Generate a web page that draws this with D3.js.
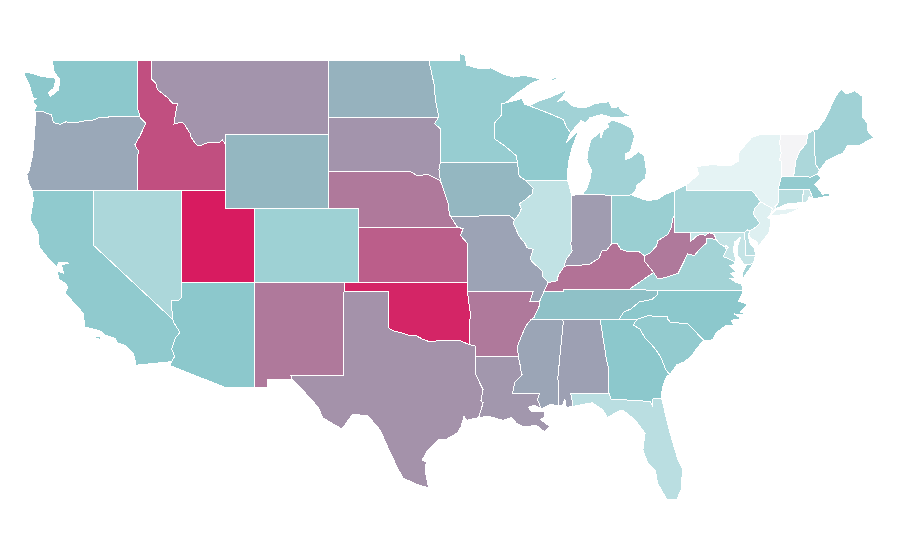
<!DOCTYPE html>
<html>
<head>
    <title>US states</title>
    <script src="https://cdnjs.cloudflare.com/ajax/libs/d3/7.8.5/d3.min.js"></script>
    <style type="text/css">
        html, body { margin: 0; background: #fff; }
        path.state { stroke: #fff; stroke-width: 1px; shape-rendering: crispEdges; }
    </style>
</head>
<body>
<script type="text/javascript">
    // values
    var stateValues = {
        WA: 30, OR: 43, CA: 29, NV: 21, ID: 79, MT: 51, WY: 37, UT: 100, AZ: 30, CO: 25, NM: 62,
        ND: 39, SD: 51, NE: 62, KS: 73, OK: 96, TX: 52, MN: 27, IA: 37, MO: 45, AR: 62, LA: 50,
        WI: 29, IL: 15, MS: 44, AL: 46, TN: 33, KY: 65, IN: 48, MI: 24, OH: 26, WV: 62, VA: 23.5,
        NC: 30, SC: 28, GA: 30, FL: 17, PA: 22, NY: 5, NJ: 7, DE: 17, MD: 14, DC: 14, CT: 18,
        RI: 13, MA: 28, VT: 0, NH: 21, ME: 24.5
    };
    var colorDomain = [0, 5, 30, 100];
    var colorRange = ["#f4f4f6", "#e5f3f4", "#8cc8cc", "#d81b60"];

    // shared borders, lon/lat
    var waCoast = [[-122.76,49],[-122.8,48.9],[-122.7,48.4],[-122.3,47.95],[-122.4,47.4],[-122.95,47.05],[-123.1,47.25],[-122.72,47.5],[-122.58,47.95],[-122.75,48.1],[-123.15,48.1],[-123.7,48.17],[-124.2,48.3],[-124.73,48.38],[-124.65,48.1],[-124.4,47.75],[-124.2,47.2],[-124.1,46.95],[-123.9,46.95],[-124.1,46.85],[-124.05,46.65],[-123.9,46.55],[-124.05,46.3],[-124,46.25]];
    var waOr = [[-124,46.25],[-123.5,46.27],[-123.2,46.15],[-122.9,46.08],[-122.8,45.85],[-122.75,45.65],[-122.3,45.55],[-121.9,45.68],[-121.2,45.65],[-120.65,45.73],[-120.2,45.73],[-119.6,45.92],[-119,45.93],[-118.98,46],[-116.92,46]];
    var waId = [[-117.04,49],[-117.04,46.42],[-116.92,46.17],[-116.92,46]];
    var orCoast = [[-124,46.25],[-123.95,45.9],[-124.05,44.8],[-124.15,43.9],[-124.4,43],[-124.55,42.84],[-124.4,42.3],[-124.2,42]];
    var orId = [[-116.92,46],[-116.78,45.85],[-116.46,45.6],[-116.7,45.2],[-116.85,44.95],[-117.2,44.45],[-117.05,44.2],[-116.93,44.1],[-117.03,43.83],[-117.03,42]];
    var idMt = [[-116.05,49],[-116.05,47.98],[-115.72,47.7],[-115.7,47.45],[-115,47],[-114.6,46.65],[-114.32,46.65],[-114.45,46.1],[-114.55,45.57],[-114,45.68],[-113.8,45.5],[-113.45,45.05],[-113.45,44.95],[-113.1,44.5],[-112.85,44.37],[-112.3,44.55],[-111.5,44.55],[-111.25,44.7],[-111.05,44.47]];
    var redRiver = [[-97.23,49],[-97.1,48.5],[-96.85,47.6],[-96.8,46.9],[-96.56,45.94]];
    var sdMn = [[-96.56,45.94],[-96.85,45.6],[-96.45,45.3],[-96.45,43.5]];
    var sdIa = [[-96.45,43.5],[-96.55,43.1],[-96.45,42.49]];
    var sdNe = [[-104.05,43],[-98.5,43],[-98,42.77],[-97.3,42.85],[-96.7,42.6],[-96.45,42.49]];
    var neIa = [[-96.45,42.49],[-96.1,41.7],[-95.9,41.2],[-95.85,40.7],[-95.77,40.58]];
    var neMo = [[-95.77,40.58],[-95.3,40]];
    var iaMo = [[-95.77,40.58],[-91.73,40.61],[-91.42,40.38]];
    var moKs = [[-95.3,40],[-94.9,39.9],[-95.1,39.55],[-94.6,39.1],[-94.62,37]];
    var iaIl = [[-91.42,40.38],[-91.1,40.7],[-90.95,41],[-91.1,41.25],[-90.65,41.5],[-90.2,41.8],[-90.15,42.1],[-90.64,42.5]];
    var iaWi = [[-90.64,42.5],[-91.1,42.75],[-91.22,43.5]];
    var mnWi = [[-92.05,46.7],[-92.3,46.65],[-92.3,46.05],[-92.8,45.6],[-92.75,44.75],[-92.1,44.4],[-91.3,43.85],[-91.22,43.5]];
    var mnLake = [[-97.23,49],[-95.15,49],[-95.15,49.37],[-94.8,49.3],[-94.65,48.75],[-93.8,48.55],[-93,48.6],[-92.3,48.3],[-91.5,48.1],[-90.8,48.2],[-89.6,48],[-90.3,47.75],[-91.2,47.25],[-92.05,46.7]];
    var wiNorth = [[-92.05,46.7],[-91.2,46.87],[-90.9,46.95],[-90.75,46.65],[-90.4,46.55]];
    var wiMi = [[-90.4,46.55],[-89.1,46.15],[-88.65,46],[-88.1,45.8],[-87.85,45.35],[-87.6,45.1]];
    var wiLake = [[-87.6,45.1],[-87.9,44.55],[-87.05,45.25],[-87.5,44.3],[-87.7,43.7],[-87.8,43.1],[-87.8,42.5]];
    var ilIn = [[-87.53,41.7],[-87.53,39.35],[-87.6,39.1],[-87.5,38.7],[-87.95,38.2],[-88.05,37.85]];
    var ilKy = [[-88.05,37.85],[-88.45,37.4],[-88.5,37.1],[-89.13,37]];
    var ilMo = [[-89.13,37],[-89.5,37.3],[-89.5,37.6],[-90.2,38.1],[-90.35,38.3],[-90.15,38.8],[-90.55,38.87],[-90.7,39.1],[-91.1,39.5],[-91.5,40.2],[-91.42,40.38]];
    var moKy = [[-89.13,37],[-89.15,36.98],[-89.42,36.5]];
    var moTn = [[-89.42,36.5],[-89.7,36]];
    var arTn = [[-89.7,36],[-89.7,35.8],[-90.1,35.1],[-90.3,35]];
    var arMs = [[-90.3,35],[-90.6,34.7],[-90.9,34.2],[-91.2,33.6],[-91.17,33]];
    var laMs = [[-91.17,33],[-91.05,32.6],[-91,32.3],[-90.9,32],[-91.4,31.6],[-91.55,31],[-89.73,31],[-89.85,30.65],[-89.6,30.18]];
    var redOk = [[-94.48,33.64],[-95.2,33.88],[-95.8,33.85],[-96.6,33.85],[-97.2,33.8],[-97.7,33.95],[-98.1,34.13],[-98.6,34.15],[-99.2,34.3],[-99.7,34.4],[-100,34.56]];
    var txLa = [[-94.04,33.02],[-94.04,32],[-93.55,31.2],[-93.7,30.6],[-93.55,30.5],[-93.85,29.7]];
    var txCoast = [[-93.85,29.7],[-94.65,29.55],[-94.85,29.75],[-95.05,29.2],[-95.3,28.87],[-96.1,28.5],[-96.6,28.5],[-97.37,27.85],[-97.7,27.4],[-97.4,27.3],[-97.5,26.87],[-97.25,25.9]];
    var rioGrande = [[-97.25,25.9],[-98,26.07],[-99,26.43],[-99.4,27.03],[-99.88,27.84],[-100.2,28.4],[-100.55,29.03],[-101.37,29.78],[-102.39,29.89],[-102.8,29.46],[-103.14,29.08],[-104.43,29.68],[-104.77,30.27],[-105.99,31.35],[-106.53,31.78]];
    var laCoast = [[-89.6,30.18],[-90.1,30.38],[-90.45,30.25],[-90.3,30.05],[-89.9,30.05],[-89.4,30.05],[-89.4,29.7],[-89.65,29.6],[-89,29.2],[-89.4,28.95],[-89.9,29.25],[-90.2,29.25],[-90.85,29.2],[-91.3,29.4],[-91.6,29.7],[-92.2,29.55],[-93.2,29.77],[-93.85,29.7]];
    var msAl = [[-88.2,35],[-88.1,34.9],[-88.47,31.9],[-88.4,30.35]];
    var msCoast = [[-88.4,30.35],[-89,30.4],[-89.6,30.18]];
    var alCoast = [[-87.5,30.3],[-87.9,30.25],[-88,30.7],[-88.15,30.35],[-88.4,30.35]];
    var alGa = [[-85.6,35],[-85.18,32.87],[-85,32.3],[-85.05,31.55],[-85,31]];
    var gaFl = [[-85,31],[-84.86,30.7],[-82.2,30.57],[-82.05,30.36],[-82,30.75],[-81.45,30.72]];
    var flCoast = [[-81.45,30.72],[-81.4,30.65],[-80.85,28.85],[-80.35,27.5],[-80,26.9],[-80.1,25.8],[-80.4,25.25],[-81.05,25.25],[-81.7,26.15],[-81.85,26.85],[-82.4,27.3],[-82.7,27.95],[-82.55,28.85],[-83.2,29.55],[-84.05,30.1],[-84.35,30.05],[-85.1,29.7],[-85.4,30.1],[-86.15,30.5],[-87.5,30.3]];
    var gaSc = [[-83.11,35],[-83.35,34.7],[-82.9,34.48],[-82.55,34],[-81.95,33.5],[-81.5,33],[-81.15,32.3],[-80.88,32.03]];
    var gaCoast = [[-81.45,30.72],[-81.4,31.1],[-81.3,31.5],[-81.1,31.9],[-80.88,32.03]];
    var scNc = [[-83.11,35],[-82.4,35.2],[-81.04,35.15],[-81.04,35.05],[-80.8,34.82],[-79.67,34.8],[-78.55,33.86]];
    var scCoast = [[-80.88,32.03],[-80.6,32.3],[-80.4,32.55],[-79.9,32.7],[-79.3,33.1],[-79.1,33.4],[-78.55,33.86]];
    var ncCoast = [[-78.55,33.86],[-77.95,33.9],[-77.7,34.3],[-77.1,34.65],[-76.5,34.65],[-76.7,34.95],[-76,35.05],[-76.5,35.3],[-75.5,35.25],[-76.1,35.4],[-75.55,35.8],[-76.2,36],[-75.87,36.55]];
    var tnNc = [[-81.68,36.59],[-81.7,36.35],[-82.05,36.1],[-82.6,36],[-82.95,35.95],[-83.5,35.57],[-84,35.4],[-84.32,35]];
    var inKy = [[-84.82,39.1],[-85.2,38.7],[-85.45,38.75],[-85.7,38.3],[-86.3,38],[-86.8,37.95],[-87.4,37.9],[-87.9,37.9],[-88.05,37.85]];
    var ohKy = [[-84.82,39.1],[-84.45,39.1],[-84.2,38.8],[-83.65,38.65],[-83,38.7],[-82.6,38.45]];
    var kyWv = [[-82.6,38.45],[-82.6,38.17],[-81.97,37.54]];
    var ohWv = [[-82.6,38.45],[-82.2,38.6],[-81.75,39],[-81.7,39.25],[-81,39.6],[-80.8,39.9],[-80.65,40.5],[-80.52,40.64]];
    var ohLake = [[-80.52,41.98],[-81.2,41.75],[-81.7,41.5],[-82.3,41.43],[-82.7,41.5],[-83.45,41.73]];
    var wvMd = [[-79.48,39.72],[-79.48,39.2],[-79.1,39.47],[-78.8,39.6],[-78.45,39.55],[-78.2,39.7],[-77.85,39.6],[-77.72,39.32]];
    var wvVa = [[-77.72,39.32],[-78.35,39.4],[-78.35,39.15],[-78.85,38.8],[-79.2,38.45],[-79.65,38.55],[-80.3,37.5],[-80.85,37.35],[-81.25,37.25],[-81.7,37.2],[-81.97,37.54]];
    var nyPaDel = [[-75.35,42],[-75.05,41.75],[-74.7,41.36]];
    var paNj = [[-74.7,41.36],[-75.1,41],[-75.2,40.7],[-74.75,40.2],[-75.1,39.95],[-75.42,39.8]];
    var paDe = [[-75.42,39.8],[-75.6,39.84],[-75.79,39.72]];
    var nyLake = [[-79.76,42.27],[-78.9,42.85],[-79.05,43.27],[-78,43.37],[-76.8,43.3],[-76.2,43.55],[-76.2,44],[-75.3,44.85],[-74.7,45],[-73.35,45.01]];
    var nyVt = [[-73.35,45.01],[-73.4,44.5],[-73.3,44],[-73.42,43.6],[-73.25,43.55],[-73.28,42.75]];
    var nyCt = [[-73.5,42.05],[-73.5,41.3],[-73.72,41.1],[-73.65,41]];
    var vtNh = [[-71.5,45.01],[-71.6,44.5],[-72.05,44.1],[-72.3,43.6],[-72.46,42.73]];
    var njCoast = [[-73.9,41],[-74.03,40.65],[-74.25,40.5],[-74,40.45],[-74.1,39.75],[-74.4,39.4],[-74.9,38.93],[-74.95,39.2],[-75.4,39.4],[-75.55,39.65],[-75.42,39.8]];
    var deBay = [[-75.05,38.45],[-75.1,38.8],[-75.4,39.1],[-75.55,39.5],[-75.42,39.8]];
    var potomac = [[-76.35,38.05],[-76.9,38.3],[-77.25,38.4],[-77.05,38.7],[-77.04,38.79]];
    var mdBay = [[-75.05,38.45],[-75.2,38.03],[-75.65,37.95],[-75.85,37.97],[-76.05,38.25],[-76.3,38.5],[-76.25,39],[-76.05,39.45],[-76.45,39.2],[-76.55,38.8],[-76.45,38.4],[-76.35,38.05]];
    var vaCoast = [[-75.87,36.55],[-76,36.92],[-76.35,37],[-76.75,37.2],[-76.4,37.25],[-76.75,37.5],[-76.3,37.55],[-76.8,37.9],[-76.35,38.05]];
    var maineCoast = [[-67.78,45.95],[-67.45,45.6],[-67.4,45.15],[-67,44.85],[-68,44.4],[-68.8,44.4],[-69.1,44],[-69.8,43.75],[-70.2,43.6],[-70.7,43.07]];
    var caCoast = [[-124.2,42],[-124.1,41.5],[-124.33,40.38],[-123.8,39.7],[-123.7,38.9],[-122.98,38.2],[-122.5,37.85],[-122.35,38.1],[-121.7,38.05],[-122.2,37.95],[-122.05,37.5],[-122.45,37.6],[-122.4,37.2],[-121.95,36.95],[-121.75,36.76],[-121.95,36.43],[-120.73,35.35],[-120.6,34.6],[-119.6,34.4],[-119.2,34.15],[-118.55,33.97],[-118.4,33.75],[-117.9,33.6],[-117.3,33.15],[-117.12,32.53]];
    var caAz = [[-114.63,35],[-114.57,34.85],[-114.15,34.3],[-114.45,34],[-114.7,33.4],[-114.5,33],[-114.72,32.72]];
    var azNv = [[-114.63,35],[-114.75,36.05],[-114.2,36.05],[-114.04,36.2],[-114.04,37]];

    var isleRoyale = [[-89.2,47.85],[-88.5,48.17],[-88.6,47.98]];
    var longIsland = [[-74.03,40.58],[-72.9,40.7],[-71.9,41.05],[-72.6,41],[-73.7,40.92]];
    var delmarvaVa = [[-75.65,37.95],[-75.2,38.03],[-75.95,37.15],[-75.95,37.5]];
    var santaCruz = [[-120,34.05],[-119.5,34.07],[-119.6,33.92]];
    var miUpper = [[-90.4,46.55],[-89.8,46.8],[-89.1,46.98],[-88.45,47.2],[-87.8,47.47],[-88.2,47],[-88.45,46.8],[-88,46.9],[-87.4,46.5],[-86.6,46.45],[-85.9,46.68],[-85,46.77],[-84.8,46.45],[-84.35,46.5],[-84.1,46.25],[-83.5,46],[-83.9,45.95],[-84.7,45.9],[-85.5,46.08],[-86.3,45.9],[-86.6,45.65],[-86.9,45.75],[-87.6,45.1]];
    var miLower = [[-86.82,41.76],[-86.5,42.1],[-86.25,42.7],[-86.2,43.1],[-86.5,43.6],[-86.45,44],[-86.25,44.7],[-85.95,44.9],[-85.6,45.15],[-85.55,44.8],[-85.35,45.25],[-85,45.4],[-85.1,45.6],[-84.75,45.78],[-84.2,45.62],[-83.5,45.35],[-83.3,45],[-83.3,44.8],[-83.55,44.1],[-83.9,43.95],[-83.9,43.65],[-83.5,43.75],[-83,44.07],[-82.6,43.85],[-82.45,43],[-82.55,42.6],[-83.1,42.25],[-83.15,42.05],[-83.45,41.73],[-84.8,41.72]];

    function rev(a) { return a.slice().reverse(); }
    function ring() {
        var pts = [].concat.apply([], arguments);
        return pts.concat([pts[0]]);
    }

    var stateRings = {
        WA: [ring(waCoast, waOr, rev(waId))],
        OR: [ring(orCoast, [[-120,42]], rev(orId), rev(waOr))],
        CA: [ring(rev(caCoast), [[-120,42],[-120,39]], caAz), ring(santaCruz)],
        NV: [ring([[-120,42],[-114.04,42]], rev(azNv), [[-120,39]])],
        ID: [ring(idMt, [[-111.05,42],[-114.04,42]], rev(orId), rev(waId))],
        MT: [ring([[-104.05,49],[-104.05,45],[-111.05,45]], rev(idMt))],
        WY: [ring([[-111.05,45],[-104.05,45],[-104.05,41],[-111.05,41]])],
        UT: [ring([[-114.04,42],[-111.05,42],[-111.05,41],[-109.05,41],[-109.05,37],[-114.04,37]])],
        AZ: [ring([[-114.04,37],[-109.05,37],[-109.05,31.33],[-111.07,31.33],[-114.8,32.5]], rev(caAz), azNv)],
        CO: [ring([[-109.05,41],[-102.05,41],[-102.05,37],[-109.05,37]])],
        NM: [ring([[-109.05,37],[-103,37],[-103,36.5],[-103.06,32],[-106.62,32],[-106.53,31.78],[-108.2,31.78],[-108.2,31.33],[-109.05,31.33]])],
        ND: [ring([[-104.05,49]], redRiver, [[-104.05,45.94]])],
        SD: [ring([[-104.05,45.94]], sdMn, sdIa, rev(sdNe))],
        NE: [ring(sdNe, neIa, neMo, [[-102.05,40],[-102.05,41],[-104.05,41]])],
        KS: [ring([[-102.05,40]], moKs, [[-102.05,37]])],
        OK: [ring([[-103,37],[-94.62,37],[-94.62,36.5],[-94.43,35.4]], redOk, [[-100,36.5],[-103,36.5]])],
        TX: [ring([[-103,36.5],[-100,36.5]], rev(redOk), [[-94.04,33.55]], txLa, txCoast, rioGrande, [[-106.62,32],[-103.06,32]])],
        MN: [ring(mnLake, mnWi, rev(sdMn), rev(redRiver))],
        IA: [ring([[-96.45,43.5]], rev(iaWi), rev(iaIl), rev(iaMo), rev(neIa), rev(sdIa))],
        MO: [ring(iaMo, rev(ilMo), moKy, moTn, [[-90.37,36],[-90.15,36.5],[-94.62,36.5]], rev(moKs), rev(neMo))],
        AR: [ring([[-94.62,36.5],[-90.15,36.5],[-90.37,36]], arTn, arMs, [[-94.04,33.02],[-94.04,33.55],[-94.48,33.64],[-94.43,35.4]])],
        LA: [ring(laMs, laCoast, rev(txLa))],
        WI: [ring(wiNorth, wiMi, wiLake, iaWi, rev(mnWi))],
        IL: [ring([[-90.64,42.5],[-87.8,42.5]], ilIn, ilKy, ilMo, iaIl)],
        MS: [ring([[-90.3,35]], msAl, msCoast, rev(laMs), rev(arMs))],
        AL: [ring(alGa, [[-87.6,31],[-87.45,30.4]], alCoast, rev(msAl))],
        TN: [ring([[-88.07,36.5],[-88.07,36.6],[-83.68,36.6]], tnNc, [[-85.6,35],[-88.2,35]], rev(arTn), rev(moTn))],
        KY: [ring(rev(ilKy), rev(inKy), ohKy, kyWv, [[-83.68,36.6],[-88.07,36.6],[-88.07,36.5]], rev(moKy))],
        IN: [ring([[-87.53,41.7],[-87.2,41.75],[-86.82,41.76],[-84.8,41.72]], inKy, rev(ilIn))],
        MI: [ring(miUpper, rev(wiMi)), ring(miLower), ring(isleRoyale)],
        OH: [ring([[-84.8,41.72]], rev(ohLake), rev(ohWv), rev(ohKy))],
        WV: [ring([[-80.52,39.72]], wvMd, wvVa, rev(kyWv), ohWv)],
        VA: [ring(wvVa, [[-83.68,36.6]], [[-81.68,36.59]], vaCoast, potomac, [[-77.12,38.93],[-77.5,39.1]]), ring(delmarvaVa)],
        NC: [ring([[-81.68,36.59]], rev(ncCoast), rev(scNc), [[-84.32,35]], rev(tnNc))],
        SC: [ring(scNc, rev(scCoast), rev(gaSc))],
        GA: [ring([[-85.6,35],[-84.32,35]], gaSc, rev(gaCoast), rev(gaFl), rev(alGa))],
        FL: [ring(gaFl, flCoast, [[-87.45,30.4],[-87.6,31]])],
        PA: [ring([[-79.76,42.27],[-79.76,42]], nyPaDel, paNj, paDe, [[-79.48,39.72],[-80.52,39.72],[-80.52,40.64],[-80.52,41.98]])],
        NY: [ring(nyLake, nyVt, nyCt, [[-73.9,40.85],[-74.02,40.7],[-73.9,41]], rev(nyPaDel), [[-79.76,42]]), ring(longIsland)],
        NJ: [ring([[-74.7,41.36]], njCoast, rev(paNj))],
        DE: [ring(paDe, [[-75.7,38.46]], deBay)],
        MD: [ring([[-79.48,39.72],[-75.79,39.72],[-75.7,38.46]], mdBay, potomac, [[-76.91,38.89],[-77.04,39],[-77.12,38.93],[-77.5,39.1]], rev(wvMd))],
        DC: [ring([[-77.12,38.93],[-77.04,39],[-76.91,38.89],[-77.04,38.79]])],
        CT: [ring([[-71.8,42.02],[-71.85,41.32],[-72.9,41.25]], rev(nyCt))],
        RI: [ring([[-71.8,42.02],[-71.38,42.02],[-71.12,41.5],[-71.4,41.65],[-71.5,41.37],[-71.85,41.32]])],
        MA: [ring([[-73.28,42.75],[-72.46,42.73],[-71.3,42.7],[-70.82,42.87],[-70.6,42.65],[-71,42.3],[-70.65,41.95],[-70.5,41.78],[-70.05,41.8],[-70,41.68],[-70.65,41.6],[-71.12,41.5],[-71.38,42.02],[-71.8,42.02],[-73.5,42.05]])],
        VT: [ring([[-73.35,45.01]], vtNh, rev(nyVt))],
        NH: [ring([[-71.5,45.01],[-71.08,45.3],[-70.98,43.4],[-70.7,43.07],[-70.82,42.87],[-71.3,42.7]], rev(vtNh))],
        ME: [ring([[-71.08,45.3],[-70.85,45.25],[-70.4,45.75],[-70.1,46.2],[-69.65,47],[-69.23,47.46],[-68.9,47.18],[-68.3,47.36],[-67.79,47.07]], maineCoast, [[-70.98,43.4]])]
    };

    var width = 900, height = 560;

    var x = d3.scaleLinear().domain([-114.04, -102.05]).range([181.5, 358]);
    var y = d3.scaleLinear().domain([49, 37]).range([60.5, 282.5]);
    var color = d3.scaleLinear().domain(colorDomain).range(colorRange);

    var projection = d3.geoTransform({
        point: function (lon, lat) { this.stream.point(x(lon), y(lat)); }
    });
    var path = d3.geoPath(projection);

    var features = Object.keys(stateRings).map(function (code) {
        return {
            type: "Feature",
            id: code,
            properties: {value: stateValues[code]},
            geometry: {
                type: "MultiPolygon",
                coordinates: stateRings[code].map(function (r) { return [r]; })
            }
        };
    });

    var svg = d3.select("body").append("svg")
        .attr("width", width)
        .attr("height", height)
        .style("display", "block");

    svg.selectAll("path.state")
        .data(features)
        .enter().append("path")
        .attr("class", "state")
        .attr("d", path)
        .attr("fill", function (d) { return color(d.properties.value); });
</script>
</body>
</html>
